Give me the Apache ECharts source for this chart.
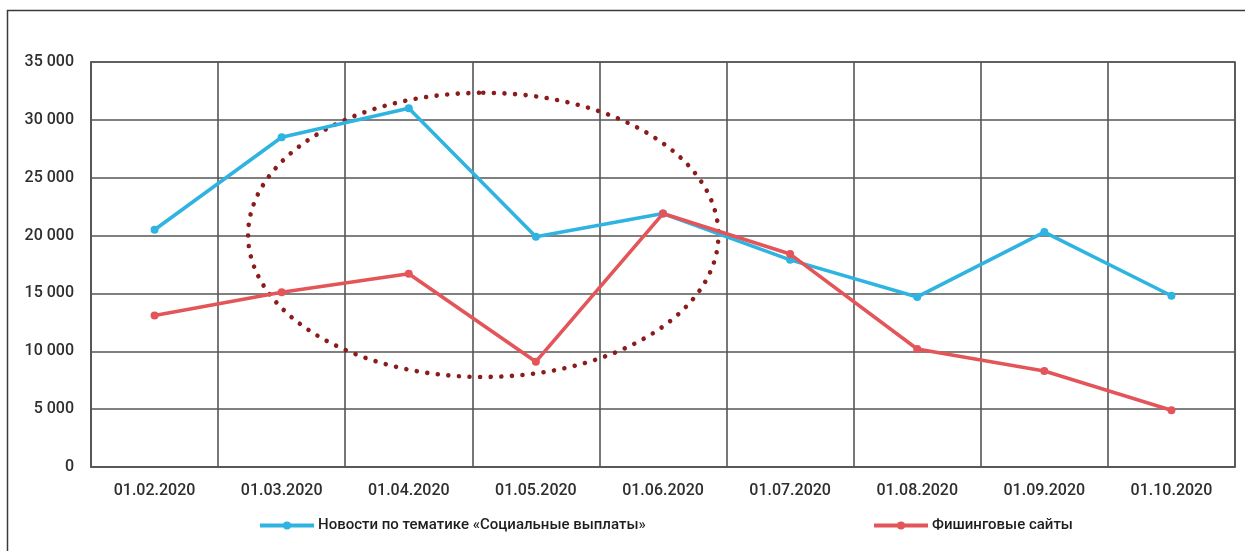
<!DOCTYPE html>
<html>
<head>
<meta charset="utf-8">
<script src="https://cdn.jsdelivr.net/npm/echarts@6/dist/echarts.min.js"></script>
<style>
  html, body { margin: 0; padding: 0; background: #fff; }
  #chart { width: 1245px; height: 551px; }
</style>
</head>
<body>
<div id="chart"></div>
<script>
// Monthly counts: news on "social payments" vs phishing sites
const dates = ['01.02.2020', '01.03.2020', '01.04.2020', '01.05.2020', '01.06.2020',
               '01.07.2020', '01.08.2020', '01.09.2020', '01.10.2020'];
const newsSeriesName = 'Новости по тематике «Социальные выплаты»';
const phishSeriesName = 'Фишинговые сайты';
const newsCounts = [20500, 28500, 31000, 19900, 21900, 17900, 14700, 20300, 14800];
const phishCounts = [13100, 15100, 16700, 9100, 21900, 18400, 10200, 8300, 4900];

// Dotted ellipse highlighting spring 2020, in data units
// (category index + fraction, value) and radii (bands, value units)
const highlightCenter = [2, 0.586, 20060];
const highlightRadius = [1.85, 12280];

const fmtThousands = v => String(v).replace(/\B(?=(\d{3})+(?!\d))/g, ' ');

const chart = echarts.init(document.getElementById('chart'), null, { renderer: 'canvas' });

const labelFont = { fontFamily: 'Roboto', fontSize: 16, fontWeight: 500, color: '#2e2e2e' };
const legendFont = { fontFamily: 'Roboto', fontSize: 15, fontWeight: 500, color: '#1e1e1e', padding: [0, 0, 0, -1] };
const gridColor = '#565656';
const gridWidth = 1.6;

chart.setOption({
  animation: false,
  backgroundColor: '#fff',
  graphic: [{
    type: 'rect',
    shape: { x: 7.5, y: 10.5, width: 1400, height: 700 },
    style: { fill: 'none', stroke: '#3a3a3a', lineWidth: 1.5 },
    silent: true
  }],
  grid: {
    left: 91, top: 62, right: 10, bottom: 84,
    show: true, borderColor: gridColor, borderWidth: gridWidth
  },
  legend: [{
    left: 253, top: 513,
    data: [newsSeriesName],
    itemWidth: 54, itemHeight: 10, itemGap: 4,
    lineStyle: { width: 4 },
    textStyle: legendFont
  }, {
    left: 867, top: 513,
    data: [phishSeriesName],
    itemWidth: 54, itemHeight: 10, itemGap: 4,
    lineStyle: { width: 4 },
    textStyle: legendFont
  }],
  xAxis: {
    type: 'category',
    data: dates,
    boundaryGap: true,
    axisLine: { show: true, lineStyle: { color: gridColor, width: gridWidth } },
    axisTick: { show: false },
    splitLine: { show: true, lineStyle: { color: gridColor, width: gridWidth } },
    axisLabel: Object.assign({ margin: 16, interval: 0 }, labelFont)
  },
  yAxis: {
    type: 'value',
    min: 0, max: 35000, interval: 5000,
    axisLine: { show: true, lineStyle: { color: gridColor, width: gridWidth } },
    axisTick: { show: false },
    splitLine: { show: true, lineStyle: { color: gridColor, width: gridWidth } },
    axisLabel: Object.assign({ margin: 17, formatter: fmtThousands }, labelFont)
  },
  series: [{
    type: 'custom',
    silent: true,
    z: 1,
    data: [[0, 0]],
    renderItem: function (params, api) {
      const a = api.coord([highlightCenter[0], highlightCenter[2]]);
      const b = api.coord([highlightCenter[0] + 1, highlightCenter[2]]);
      const cx = a[0] + (b[0] - a[0]) * highlightCenter[1];
      const cy = a[1];
      const band = b[0] - a[0];
      const rx = band * highlightRadius[0];
      const ry = Math.abs(api.coord([0, 0])[1] - api.coord([0, highlightRadius[1]])[1]);
      const pts = [];
      const n = 240;
      for (let i = 0; i <= n; i++) {
        const t = -Math.PI / 2 + (i / n) * Math.PI * 2;
        pts.push([cx + rx * Math.cos(t), cy + ry * Math.sin(t)]);
      }
      return {
        type: 'polyline',
        shape: { points: pts },
        style: {
          fill: 'none', stroke: '#8a1c1c', lineWidth: 4.6,
          lineDash: [0.01, 10.6], lineCap: 'round'
        }
      };
    }
  }, {
    name: newsSeriesName,
    type: 'line',
    data: newsCounts,
    z: 3,
    symbol: 'circle', symbolSize: 8,
    lineStyle: { color: '#2fb4e2', width: 3.6 },
    itemStyle: { color: '#2fb4e2' }
  }, {
    name: phishSeriesName,
    type: 'line',
    data: phishCounts,
    z: 4,
    symbol: 'circle', symbolSize: 8,
    lineStyle: { color: '#e4555a', width: 3.6 },
    itemStyle: { color: '#e4555a' }
  }]
});
</script>
</body>
</html>
